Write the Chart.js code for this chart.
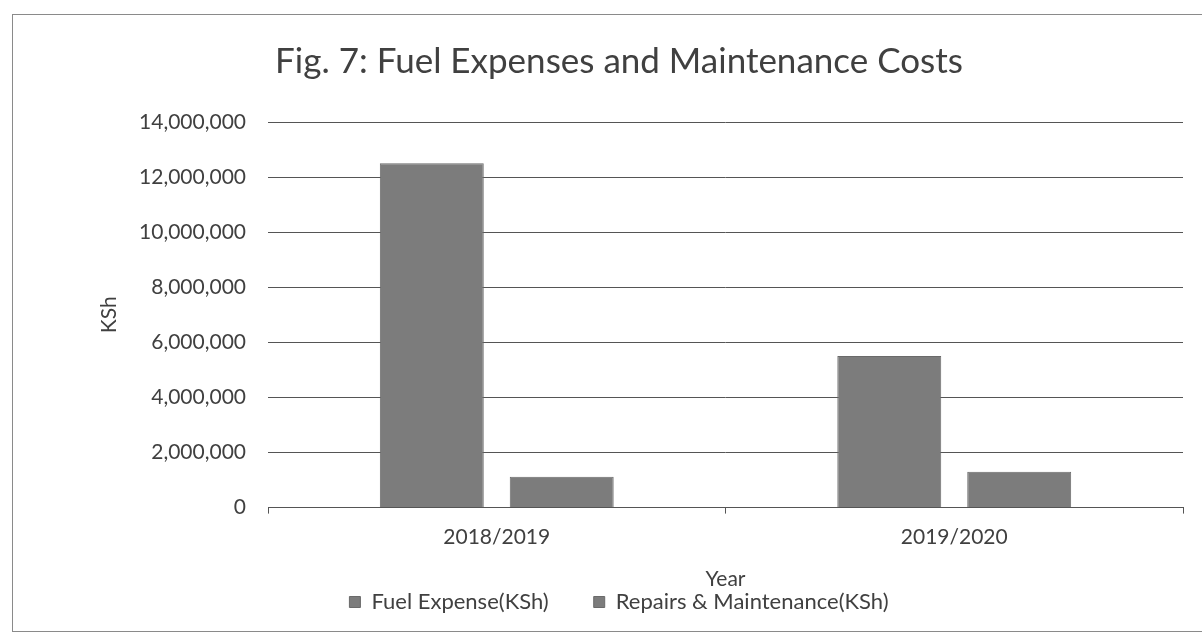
<!DOCTYPE html>
<html>
<head>
<meta charset="utf-8">
<script src="https://cdn.jsdelivr.net/npm/chart.js@4/dist/chart.umd.min.js"></script>
<style>
  html, body { margin: 0; padding: 0; background: #fff; overflow: hidden; }
  #wrap { position: relative; width: 1202px; height: 636px; }
  #frame { position: absolute; left: 12px; top: 14px; width: 1200px; height: 616px;
           border: 1px solid #8a8a8a; pointer-events: none; }
</style>
</head>
<body>
<div id="wrap">
  <canvas id="canvas-1" width="1202" height="636"></canvas>
  <div id="frame"></div>
</div>
<script>
const years = ["2018/2019", "2019/2020"];
const fuelExpense = [12500000, 5500000];
const repairsMaintenance = [1120000, 1300000];
const yTicks = [0, 2000000, 4000000, 6000000, 8000000, 10000000, 12000000, 14000000];

const textColor = "#404040";
const fontFamily = "Lato, 'Noto Sans', sans-serif";

const barChart = new Chart(document.getElementById("canvas-1"), {
  type: "bar",
  data: {
    labels: years,
    datasets: [
      {
        label: "Fuel Expense(KSh)",
        backgroundColor: "#7c7c7c",
        borderColor: "#6a6a6a",
        borderWidth: 1,
        data: fuelExpense,
      },
      {
        label: "Repairs & Maintenance(KSh)",
        backgroundColor: "#7c7c7c",
        borderColor: "#6a6a6a",
        borderWidth: 1,
        data: repairsMaintenance,
      },
    ],
  },
  options: {
    responsive: false,
    animation: false,
    categoryPercentage: 0.568,
    barPercentage: 0.8,
    layout: { padding: { left: 55, right: 19, top: 30, bottom: 13 } },
    plugins: {
      title: {
        display: true,
        text: "Fig. 7: Fuel Expenses and Maintenance Costs",
        color: textColor,
        font: { family: fontFamily, size: 35, weight: "normal" },
        padding: { top: 11, bottom: 39 },
      },
      legend: {
        position: "bottom",
        labels: {
          color: textColor,
          font: { family: fontFamily, size: 22 },
          boxWidth: 11,
          boxHeight: 11,
          padding: 45,
        },
      },
      tooltip: { enabled: false },
    },
    scales: {
      x: {
        grid: { drawOnChartArea: false, drawTicks: true, tickLength: 6, color: "#555" },
        border: { display: true, color: "#555" },
        ticks: { color: textColor, font: { family: fontFamily, size: 21 }, padding: 11 },
        title: {
          display: true,
          text: "Year",
          color: textColor,
          font: { family: fontFamily, size: 21 },
          padding: { top: 6, bottom: -46 },
        },
      },
      y: {
        min: 0,
        max: 14000000,
        afterFit: (scale) => { scale.width = 213; },
        afterBuildTicks: (scale) => { scale.ticks = yTicks.map((v) => ({ value: v })); },
        grid: { color: "#555", drawTicks: false },
        border: { display: false },
        ticks: {
          color: textColor,
          font: { family: fontFamily, size: 21 },
          padding: 22,
          callback: (v) => v.toLocaleString("en-US"),
        },
        title: {
          display: true,
          text: "KSh",
          color: textColor,
          font: { family: fontFamily, size: 21 },
          padding: { top: 42, bottom: 0 },
        },
      },
    },
  },
});
</script>
</body>
</html>
